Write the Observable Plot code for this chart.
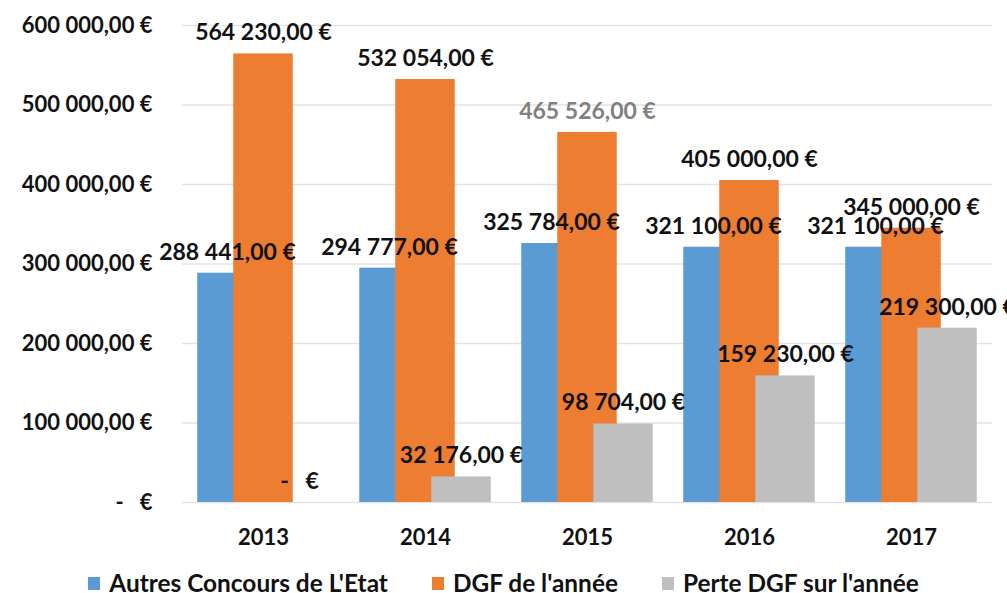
<!DOCTYPE html>
<html>
<head>
<meta charset="utf-8">
<script src="https://cdn.jsdelivr.net/npm/d3@7"></script>
<script src="https://cdn.jsdelivr.net/npm/@observablehq/plot@0.6"></script>
<style>
  html, body { margin: 0; padding: 0; background: #fff; overflow: hidden; }
  #chart { width: 1007px; height: 593px; position: relative; font-family: Lato, "Open Sans", sans-serif; }
  #chart svg { display: block; }
  .legend { position: absolute; left: 0px; top: 568px; width: 1007px; display: flex; justify-content: center; align-items: center; font-family: Lato, sans-serif; font-weight: bold; font-size: 24.4px; line-height: 30px; color: #111; }
  .legend .item { display: flex; align-items: center; margin: 0 22px; }
  .legend .sw { width: 12px; height: 13px; margin-right: 9px; }
</style>
</head>
<body>
<div id="chart"></div>
<script>
const years = ["2013", "2014", "2015", "2016", "2017"];
const seriesNames = ["Autres Concours de L'Etat", "DGF de l'année", "Perte DGF sur l'année"];
const autresConcours = [288441, 294777, 325784, 321100, 321100];
const dgfAnnee = [564230, 532054, 465526, 405000, 345000];
const perteDgf = [0, 32176, 98704, 159230, 219300];
const seriesColors = ["#5B9BD5", "#ED7D31", "#BFBFBF"];
const yTicks = [0, 100000, 200000, 300000, 400000, 500000, 600000];
const highlighted = {series: "DGF de l'année", year: "2015"};

const seriesValues = [autresConcours, dgfAnnee, perteDgf];
const rows = [];
seriesNames.forEach((s, i) => {
  years.forEach((y, j) => rows.push({series: s, year: y, value: seriesValues[i][j]}));
});

const loc = d3.formatLocale({decimal: ",", thousands: "\u00a0", grouping: [3], currency: ["", ""]});
const num = loc.format(",.2f");
const fmtEuro = v => v === 0 ? "-\u00a0\u00a0\u00a0€" : num(v) + "\u00a0€";
const isHi = d => d.series === highlighted.series && d.year === highlighted.year;

const plot = Plot.plot({
  width: 1007,
  height: 560,
  marginLeft: 180,
  marginRight: 14,
  marginTop: 25,
  marginBottom: 58,
  style: {fontFamily: "Lato, 'Open Sans', sans-serif", background: "transparent", overflow: "visible"},
  fx: {domain: years, padding: 0, label: null},
  x: {domain: seriesNames, paddingInner: 0, paddingOuter: 0.727, axis: null},
  y: {domain: [0, 600000], label: null},
  color: {domain: seriesNames, range: seriesColors},
  marks: [
    Plot.gridY(yTicks, {stroke: "#e2e2e2", strokeOpacity: 1, strokeWidth: 1.5}),
    Plot.barY(rows, {fx: "year", x: "series", y: "value", fill: "series", insetLeft: -11.75, insetRight: -11.75}),
    Plot.text(rows.filter(d => !isHi(d)), {fx: "year", x: "series", y: "value", text: d => fmtEuro(d.value), dy: -21, fontSize: 23, fontWeight: "bold", fill: "#111"}),
    Plot.text(rows.filter(isHi), {fx: "year", x: "series", y: "value", text: d => fmtEuro(d.value), dy: -21, fontSize: 23, fontWeight: "bold", fill: "#808080"}),
    Plot.axisY(yTicks, {tickSize: 0, tickPadding: 30, tickFormat: fmtEuro, fontSize: 22, fontWeight: "bold", fill: "#111", label: null}),
    Plot.axisFx({anchor: "bottom", tickSize: 0, tickPadding: 27, fontSize: 22, fontWeight: "bold", fill: "#111", label: null})
  ]
});

const chart = document.getElementById("chart");
chart.appendChild(plot);
const legend = document.createElement("div");
legend.className = "legend";
seriesNames.forEach((s, i) => {
  const it = document.createElement("div");
  it.className = "item";
  const sw = document.createElement("span");
  sw.className = "sw";
  sw.style.background = seriesColors[i];
  const tx = document.createElement("span");
  tx.textContent = s;
  it.appendChild(sw);
  it.appendChild(tx);
  legend.appendChild(it);
});
chart.appendChild(legend);
</script>
</body>
</html>
